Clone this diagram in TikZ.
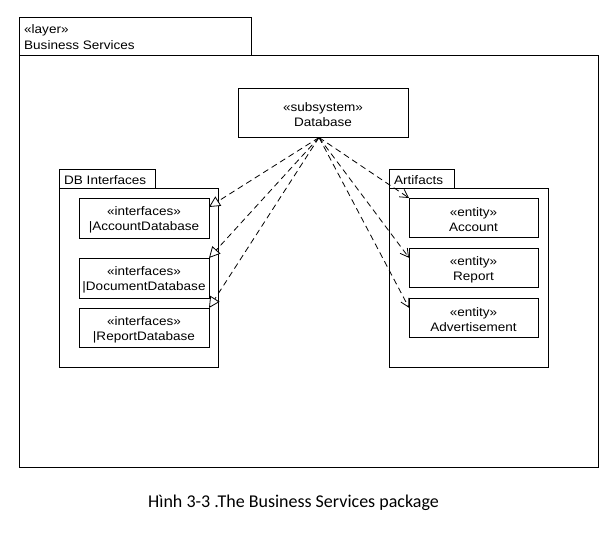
\documentclass[tikz,border=0pt]{standalone}
\usepackage{fontspec}
\setmainfont{Liberation Sans}[FakeStretch=1.1]
\newfontfamily\capfont{Carlito}
\usetikzlibrary{arrows.meta,calc}
\begin{document}
\begin{tikzpicture}[x=1pt,y=-1pt,
  pkg/.style={draw,line width=1pt,inner sep=0pt,outer sep=0pt,anchor=north west},
  cls/.style={draw,line width=1pt,inner sep=0pt,outer sep=0pt},
  ctext/.style={inner sep=0pt,align=center,yshift=-2pt,font=\fontsize{12.3}{15}\selectfont},
  lbl/.style={inner sep=0pt,anchor=base west,font=\fontsize{12.3}{15}\selectfont},
  dep/.style={draw,line width=0.8pt,dash pattern=on 6pt off 4pt,-{Straight Barb[length=8pt,width=9pt]}},
  real/.style={draw,line width=0.8pt,dash pattern=on 6pt off 4pt,-{Triangle[open,length=11pt,width=11pt,fill=white]}}]
\useasboundingbox (0,0) rectangle (614,554);
\fill[white] (0,0) rectangle (614,554);

% layer package
\node[pkg,minimum width=232pt,minimum height=38pt] (ltab) at (19,17) {};
\node[pkg,minimum width=579pt,minimum height=412pt] (lbody) at (19,55) {};
\node[lbl] (lt1) at (24,33) {«layer»};
\node[lbl] (lt2) at (24,49) {Business Services};

% Database subsystem
\node[cls,minimum width=170pt,minimum height=49pt] (db) at (323,112.5) {};
\node[ctext] (dbt) at (db.center) {«subsystem»\\Database};

% DB Interfaces package
\node[pkg,minimum width=96pt,minimum height=19pt] (dtab) at (59,169) {};
\node[pkg,minimum width=159pt,minimum height=179pt] (dbody) at (59,188) {};
\node[lbl] (dt) at (64,184) {DB Interfaces};
\node[cls,minimum width=130pt,minimum height=40pt] (ia) at (144,218) {};
\node[ctext] (iat) at (ia.center) {«interfaces»\\|AccountDatabase};
\node[cls,minimum width=130pt,minimum height=40pt] (id) at (144,278) {};
\node[ctext] (idt) at (id.center) {«interfaces»\\|DocumentDatabase};
\node[cls,minimum width=130pt,minimum height=39pt] (ir) at (144,327.5) {};
\node[ctext] (irt) at (ir.center) {«interfaces»\\|ReportDatabase};

% Artifacts package
\node[pkg,minimum width=65pt,minimum height=19pt] (atab) at (389,169) {};
\node[pkg,minimum width=159pt,minimum height=179pt] (abody) at (389,188) {};
\node[lbl] (at) at (394,184) {Artifacts};
\node[cls,minimum width=129pt,minimum height=39pt] (ea) at (473.5,217.5) {};
\node[ctext] (eat) at (ea.center) {«entity»\\Account};
\node[cls,minimum width=129pt,minimum height=39pt] (er) at (473.5,267.5) {};
\node[ctext] (ert) at (er.center) {«entity»\\Report};
\node[cls,minimum width=129pt,minimum height=39pt] (ead) at (473.5,317.5) {};
\node[ctext] (eadt) at (ead.center) {«entity»\\Advertisement};

% connectors
\coordinate (src) at (319,137.5);
\draw[real] (src) -- ($(ia.north east)!0.225!(ia.south east)$);
\draw[real] (src) -- (id.north east);
\draw[real] (src) -- (ir.north east);
\draw[dep] (src) -- (ea.north west);
\draw[dep] (src) -- ($(er.north west)!0.25!(er.south west)$);
\draw[dep] (src) -- ($(ead.north west)!0.25!(ead.south west)$);

% caption
\node[inner sep=0pt,anchor=base west,font=\capfont\fontsize{18}{20}\selectfont] (cap) at (148,507) {Hình 3-3 .The Business Services package};
\end{tikzpicture}
\end{document}
